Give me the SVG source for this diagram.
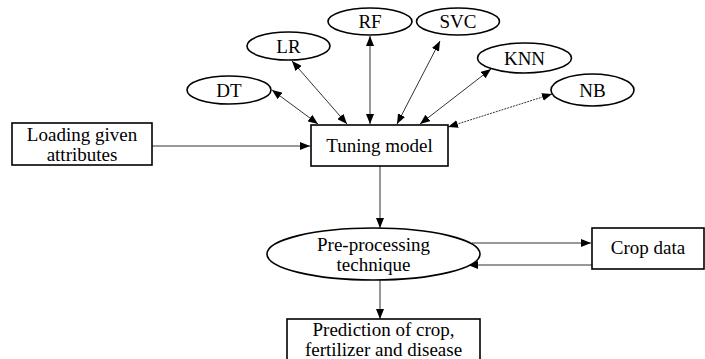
<svg xmlns="http://www.w3.org/2000/svg" width="705" height="359" viewBox="0 0 705 359">
<style>
.n{fill:#fff;stroke:#000;stroke-width:1.6}
.t{font-family:"Liberation Serif","Times New Roman",serif;font-size:19px;fill:#000;text-anchor:middle}
.c{fill:none;stroke:#333;stroke-width:1}
</style>
<defs>
<marker id="ah" markerUnits="userSpaceOnUse" markerWidth="11" markerHeight="8" refX="10" refY="4" orient="auto-start-reverse">
<path d="M0,0 L10,4 L0,8 z" fill="#000"/>
</marker>
</defs>
<rect width="705" height="359" fill="#fff"/>
<g id="connectors">
<line class="c" x1="272" y1="90" x2="318" y2="124" marker-start="url(#ah)" marker-end="url(#ah)"/>
<line class="c" x1="292" y1="61" x2="347" y2="124" marker-start="url(#ah)" marker-end="url(#ah)"/>
<line class="c" x1="370" y1="36" x2="370" y2="124" marker-start="url(#ah)" marker-end="url(#ah)"/>
<line class="c" x1="440" y1="41" x2="397" y2="124" marker-start="url(#ah)" marker-end="url(#ah)"/>
<line class="c" x1="491" y1="69" x2="420" y2="124" marker-start="url(#ah)" marker-end="url(#ah)"/>
<line class="c" x1="552" y1="94" x2="448" y2="127" marker-start="url(#ah)" marker-end="url(#ah)" stroke-dasharray="2,1"/>
<line class="c" x1="152" y1="146" x2="310" y2="146" marker-end="url(#ah)"/>
<line class="c" x1="380" y1="166" x2="380" y2="228" marker-end="url(#ah)"/>
<line class="c" x1="472" y1="243" x2="591" y2="243" marker-end="url(#ah)"/>
<line class="c" x1="592" y1="265" x2="468" y2="265" marker-end="url(#ah)"/>
<line class="c" x1="380" y1="280" x2="380" y2="319" marker-end="url(#ah)"/>
</g>
<g id="dt"><ellipse class="n" cx="229" cy="90" rx="42" ry="14"/><text class="t" x="229" y="96.5">DT</text></g>
<g id="lr"><ellipse class="n" cx="288.5" cy="46" rx="41.5" ry="14"/><text class="t" x="288.5" y="52.5">LR</text></g>
<g id="rf"><ellipse class="n" cx="370" cy="21.5" rx="42" ry="13.5"/><text class="t" x="370" y="28">RF</text></g>
<g id="svc"><ellipse class="n" cx="458" cy="21.5" rx="41.5" ry="13.5"/><text class="t" x="458" y="28">SVC</text></g>
<g id="knn"><ellipse class="n" cx="524.5" cy="58" rx="47" ry="15"/><text class="t" x="524.5" y="64.5">KNN</text></g>
<g id="nb"><ellipse class="n" cx="592.5" cy="90" rx="41.5" ry="16"/><text class="t" x="592.5" y="96.5">NB</text></g>
<g id="loading"><rect class="n" x="12" y="123" width="140" height="42"/><text class="t" x="82" y="141">Loading given</text><text class="t" x="82" y="161">attributes</text></g>
<g id="tuning"><rect class="n" x="311" y="125" width="137" height="41"/><text class="t" x="379.5" y="152">Tuning model</text></g>
<g id="preprocessing"><ellipse class="n" cx="373.5" cy="254" rx="106.5" ry="26"/><text class="t" x="373.5" y="251">Pre-processing</text><text class="t" x="373.5" y="271">technique</text></g>
<g id="cropdata"><rect class="n" x="592" y="228" width="112" height="41"/><text class="t" x="648" y="254">Crop data</text></g>
<g id="prediction"><rect class="n" x="287" y="319" width="193" height="44"/><text class="t" x="383.5" y="336">Prediction of crop,</text><text class="t" x="383.5" y="356">fertilizer and disease</text></g>
</svg>
